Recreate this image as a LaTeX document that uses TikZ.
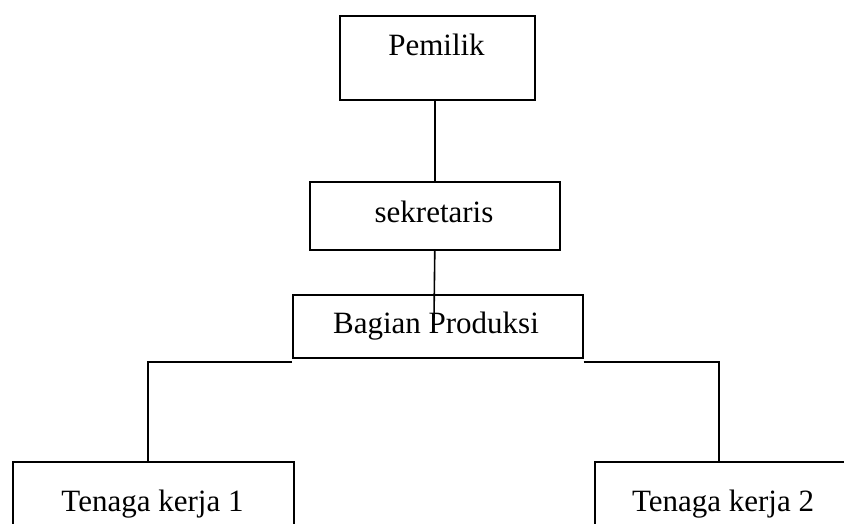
\documentclass[tikz,border=0pt]{standalone}
\usepackage{fontspec}
\setmainfont{Liberation Serif}
\begin{document}
\begin{tikzpicture}[x=1pt,y=-1pt,
  box/.style={draw,line width=1.6pt,inner sep=0pt,anchor=north west},
  lbl/.style={anchor=base,font=\fontsize{31}{36}\selectfont,inner sep=0pt},
  conn/.style={line width=1.6pt}]
\clip (0,0) rectangle (844,523);
\fill[white] (0,0) rectangle (844,523);
% boxes
\node[box,minimum width=195pt,minimum height=84pt] (pem) at (339,15) {};
\node[box,minimum width=250pt,minimum height=68pt] (sek) at (309,181) {};
\node[box,minimum width=290pt,minimum height=63pt] (bag) at (292,294) {};
\node[box,minimum width=281pt,minimum height=120pt] (tk1) at (12,461) {};
\node[box,minimum width=300pt,minimum height=120pt] (tk2) at (594,461) {};
% labels
\node[lbl] (tpem) at (436.5,55) {Pemilik};
\node[lbl] (tsek) at (434,222) {sekretaris};
\node[lbl] (tbag) at (436,333) {Bagian Produksi};
\node[lbl] (ttk1) at (152.5,511) {Tenaga kerja 1};
\node[lbl] (ttk2) at (723,511) {Tenaga kerja 2};
% connectors
\coordinate (stub) at (434,318);
\coordinate (lcorner) at (148,362);
\coordinate (rcorner) at (719,362);
\draw[conn] (sek.north |- pem.south) -- (sek.north);
\draw[conn] (sek.south) -- (stub);
\draw[conn] (bag.south west |- lcorner) -- (lcorner) -- (lcorner |- tk1.north);
\draw[conn] (bag.south east |- rcorner) -- (rcorner) -- (rcorner |- tk2.north);
\end{tikzpicture}
\end{document}
